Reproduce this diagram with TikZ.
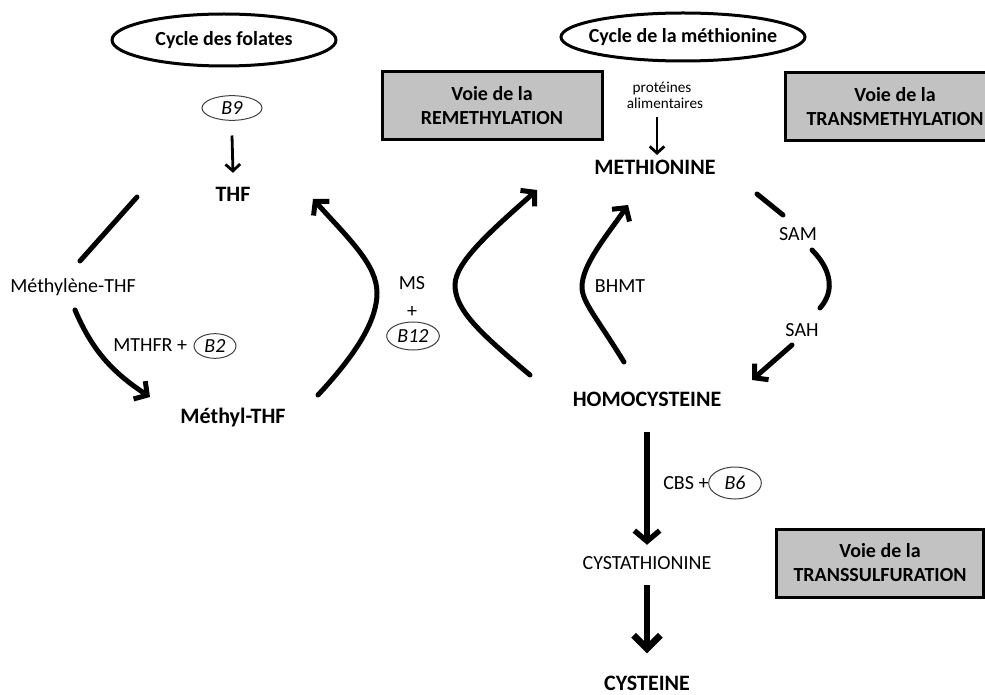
\documentclass[tikz,border=0pt]{standalone}
\usepackage{fontspec}
\setmainfont{Carlito}
\usetikzlibrary{arrows.meta,shapes.geometric}
\begin{document}
\begin{tikzpicture}[x=0.75pt,y=-0.75pt,
  reg/.style={font=\fontsize{15}{17}\selectfont, inner sep=0pt, anchor=base},
  small/.style={font=\fontsize{11.4}{13}\selectfont, inner sep=0pt, anchor=base},
  bld/.style={font=\bfseries\fontsize{16.5}{19}\selectfont, inner sep=0pt, anchor=base},
  cyc/.style={ellipse, draw, line width=2.25pt, inner sep=0pt},
  cyctext/.style={inner sep=0pt, font=\bfseries\fontsize{15}{17}\selectfont},
  vit/.style={ellipse, draw=black!75, line width=0.75pt, inner sep=0pt, font=\itshape\fontsize{15}{17}\selectfont},
  voie/.style={rectangle, draw, line width=2.25pt, fill=black!24, align=center, inner sep=0pt, font=\bfseries\fontsize{15}{18}\selectfont},
  bigarrow/.style={line width=3.75pt, line cap=round, -{Straight Barb[length=7pt,width=16pt,line cap=butt]}},
  bigline/.style={line width=3.75pt, line cap=round},
  thinarrow/.style={line width=2.1pt, -{Straight Barb[length=5pt,width=11pt]}},
  vertarrow/.style={line width=4pt, -{Straight Barb[length=8pt,width=19pt]}},
  fatarrow/.style={line width=5pt, -{Straight Barb[length=10pt,width=20pt]}}
]
\useasboundingbox (0,0) rectangle (985,695);
\clip (0,0) rectangle (985,695);

% --- titles
\node[cyc, minimum width=168pt, minimum height=39pt] (cfol) at (224,40) {};
\node[cyctext] (cfoltext) at (224,40) {Cycle des folates};
\node[cyc, minimum width=183pt, minimum height=36pt] (cmet) at (683,37) {};
\node[cyctext] (cmettext) at (683,37) {Cycle de la méthionine};

% --- pathway boxes
\node[voie, minimum width=165pt, minimum height=51pt] (vremeth) at (492,106) {Voie de la\\REMETHYLATION};
\node[voie, minimum width=165pt, minimum height=51pt] (vtrans) at (895,107) {Voie de la\\TRANSMETHYLATION};
\node[voie, minimum width=155pt, minimum height=51pt] (vsulf) at (880,563) {Voie de la\\TRANSSULFURATION};

% --- folate cycle
\node[vit, minimum width=45pt, minimum height=18.5pt] (b9) at (232,108) {B9};
\node[bld] (thf) at (233,202) {THF};
\node[reg] (methylene) at (73,293) {Méthylène-THF};
\node[reg, anchor=base west] (mthfr) at (113,351) {MTHFR +};
\node[vit, minimum width=31.5pt, minimum height=18.5pt] (b2) at (215,346) {B2};
\node[bld] (methyl) at (233,423) {Méthyl-THF};
\node[reg] (ms) at (412,290) {MS};
\node[reg] (plus) at (412,317) {+};
\node[vit, minimum width=39.5pt, minimum height=21pt] (b12) at (413,336) {B12};

% --- methionine cycle
\node[small] (prot) at (662,93) {protéines};
\node[small] (alim) at (665,109) {alimentaires};
\node[bld] (meth) at (655,175) {METHIONINE};
\node[reg] (bhmt) at (620,293) {BHMT};
\node[reg] (sam) at (798,241) {SAM};
\node[reg] (sah) at (802,336) {SAH};
\node[bld] (homo) at (647,406) {HOMOCYSTEINE};

% --- transsulfuration
\node[reg, anchor=base west] (cbs) at (663,489) {CBS +};
\node[vit, minimum width=39.5pt, minimum height=24pt] (b6) at (735,483) {B6};
\node[reg] (cysta) at (647,569) {CYSTATHIONINE};
\node[bld] (cyst) at (647,690) {CYSTEINE};

% --- curve end points
\coordinate (fA1) at (137,197); \coordinate (fA2) at (80,261);
\coordinate (fB1) at (75,310);  \coordinate (fB2) at (150,397);
\coordinate (fC1) at (318,395); \coordinate (fC2) at (313,199);
\coordinate (mA1) at (530,375); \coordinate (mA2) at (537,190);
\coordinate (mB1) at (624,362); \coordinate (mB2) at (628,205);
\coordinate (sA1) at (757,194); \coordinate (sA2) at (783,215);
\coordinate (sB1) at (812,250); \coordinate (sB2) at (820,308);
\coordinate (sC1) at (792,345); \coordinate (sC2) at (752,380);

% --- connectors
\draw[thinarrow] ([yshift=-11pt]b9.south) -- ([yshift=11pt]thf.north);
\draw[thinarrow] ([xshift=-6pt,yshift=-6pt]alim.south) -- ([xshift=1.5pt,yshift=4pt]meth.north);

\draw[bigline] (fA1) -- (fA2);
\draw[bigarrow] (fB1) .. controls (92,350) and (112,372) .. (fB2);
\draw[bigarrow] (fC1) .. controls (360,350) and (377,318) .. (377,293)
                      .. controls (377,265) and (350,240) .. (fC2);

\draw[bigarrow] (mA1) .. controls (480,333) and (455,310) .. (455,285)
                      .. controls (455,262) and (492,230) .. (mA2);
\draw[bigarrow] (mB1) .. controls (597,318) and (582,302) .. (582,287)
                      .. controls (582,265) and (605,238) .. (mB2);

\draw[bigline] (sA1) -- (sA2);
\draw[bigline] (sB1) .. controls (830,268) and (836,290) .. (sB2);
\draw[bigarrow] (sC1) -- (sC2);

\draw[vertarrow] ([yshift=-19.5pt]homo.south) -- ([yshift=8.25pt]cysta.north);
\draw[fatarrow] ([yshift=-12pt]cysta.south) -- ([yshift=16.5pt]cyst.north);
\end{tikzpicture}
\end{document}
